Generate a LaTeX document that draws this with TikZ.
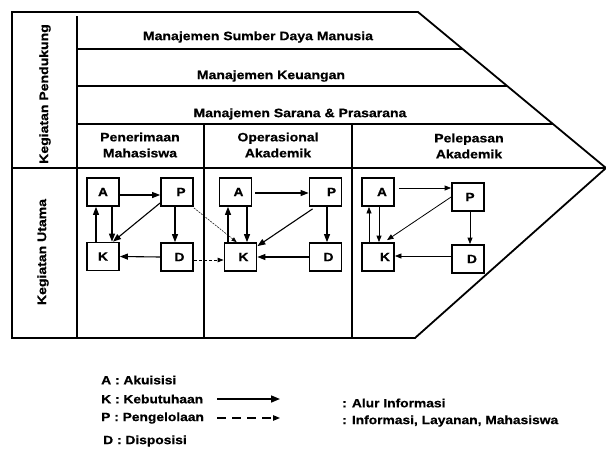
\documentclass[tikz,border=0pt]{standalone}
\usepackage{fontspec}
\setmainfont{Liberation Sans}[FakeStretch=1.15,BoldFont={Liberation Sans Bold},BoldFeatures={FakeStretch=1.15,FakeBold=0.6}]
\usetikzlibrary{arrows.meta,calc}
\begin{document}
\begin{tikzpicture}[x=1pt,y=-1pt,
  frame/.style={line width=1.8pt,line join=miter},
  box/.style={draw,line width=1.8pt,rectangle,minimum width=32pt,minimum height=28pt,inner sep=0pt,font=\fontsize{12}{13}\selectfont\bfseries},
  flow/.style={line width=1.1pt,-{Triangle[length=8pt,width=6pt]}},
  flowthin/.style={line width=0.8pt,-{Triangle[length=6.5pt,width=5pt]}},
  dotflow/.style={line width=0.5pt,dash pattern=on 2pt off 1pt,-{Triangle[length=5pt,width=4pt]}},
  dashflow/.style={line width=0.8pt,dash pattern=on 3pt off 2pt,-{Triangle[length=6pt,width=4.5pt]}},
  lbl/.style={font=\fontsize{12.2}{16}\selectfont\bfseries,align=center,inner sep=0pt},
  leg/.style={font=\fontsize{12}{14}\selectfont\bfseries,anchor=west,inner sep=0pt},
]
\useasboundingbox (0,0) rectangle (606,450);

% frame
\draw[frame] (12,12) -- (418,12) -- (606,168) -- (415,338) -- (12,338) -- cycle;
\draw[frame] (77,16) -- (77,338);
\draw[frame] (77,49) -- (462.6,49);
\draw[frame] (77,86) -- (507.2,86);
\draw[frame] (77,124) -- (553,124);
\draw[frame] (12,168) -- (606,168);
\draw[frame] (204,124) -- (204,338);
\draw[frame] (352,124) -- (352,338);

% labels
\node[lbl,rotate=90] (kp) at (45,94) {Kegiatan Pendukung};
\node[lbl,rotate=90] (ku) at (43,252) {Kegiatan Utama};
\node[lbl] (msdm) at (258,37) {Manajemen Sumber Daya Manusia};
\node[lbl] (mk) at (271,76) {Manajemen Keuangan};
\node[lbl] (msp) at (300,114) {Manajemen Sarana \& Prasarana};
\node[lbl] (c1) at (140,145) {Penerimaan\\Mahasiswa};
\node[lbl] (c2) at (278,145) {Operasional\\Akademik};
\node[lbl] (c3) at (469,146) {Pelepasan\\Akademik};

% column 1
\node[box] (A1) at (103,192) {A};
\node[box] (P1) at (177,192) {\kern8ptP};
\node[box] (K1) at (103,256.5) {K};
\node[box] (D1) at (177,257) {\kern5ptD};
\draw[flow] ([yshift=-3pt]A1.east) -- ([yshift=-3pt]P1.west);
\draw[flow] ([xshift=9pt]A1.south) -- ([xshift=9pt]K1.north);
\draw[flow] ([xshift=-7pt]K1.north) -- ([xshift=-7pt]A1.south);
\draw[flow] ([yshift=-11pt]P1.west) -- ([xshift=10pt]K1.north);
\draw[flow] ([xshift=-2pt]P1.south) -- ([xshift=-2pt]D1.north);
\draw[flow] (D1.west) -- (K1.east);

% column 2
\node[box] (A2) at (235.5,192) {\kern6ptA};
\node[box] (P2) at (325.5,192) {\kern12ptP};
\node[box] (K2) at (240.5,257) {\kern6ptK};
\node[box] (D2) at (325.5,257) {\kern6ptD};
\draw[flow] ([xshift=3pt,yshift=-1pt]A2.east) -- ([yshift=-1pt]P2.west);
\draw[flow] ([xshift=11.5pt]A2.south) -- ([xshift=11.5pt]A2.south |- K2.north);
\draw[flow] ([xshift=-12.5pt]K2.north) -- ([xshift=-12.5pt]K2.north |- A2.south);
\draw[flow] ([xshift=4pt,yshift=-2pt]P2.south west) -- ([yshift=-4pt]K2.north east);
\draw[flow] ([xshift=1.5pt]P2.south) -- ([xshift=1.5pt]D2.north);
\draw[flow] (D2.west) -- (K2.east);

% cross-column connectors
\draw[dotflow] ([yshift=-1pt]P1.south east) -- ([xshift=13pt]K2.north west);
\draw[dashflow] ([yshift=-3pt]D1.east) -- ([yshift=-3pt]D1.east -| K2.west);

% column 3
\node[box] (A3) at (378,192) {\kern8ptA};
\node[box] (P3) at (468,197) {\kern4ptP};
\node[box] (K3) at (378,257) {\kern14ptK};
\node[box] (D3) at (468,259) {\kern8ptD};
\draw[flowthin] ([xshift=4pt,yshift=4pt]A3.east) -- ([yshift=4pt]A3.east -| P3.west);
\draw[flowthin] ([xshift=-9pt]K3.north) -- ([xshift=-9pt]K3.north |- A3.south);
\draw[flowthin] ([xshift=1pt]A3.south) -- ([xshift=1pt]K3.north);
\draw[flowthin] (P3.west) -- ([xshift=9pt,yshift=2pt]K3.north);
\draw[flowthin] ([xshift=2pt]P3.south) -- ([xshift=2pt]D3.north);
\draw[flowthin] ([yshift=3pt]D3.west) -- ([yshift=3pt]D3.west -| K3.east);

% legend
\node[leg] (la) at (101,380) {A : Akuisisi};
\node[leg] (lk) at (101,399) {K : Kebutuhaan};
\node[leg] (lp) at (101,418) {P : Pengelolaan};
\node[leg] (ld) at (103,441) {D : Disposisi};
\coordinate (s1) at (217,399);
\coordinate (e1) at (280,399);
\coordinate (s2) at (217,418);
\coordinate (e2) at (280,418);
\draw[line width=1.6pt,-{Triangle[length=9pt,width=7pt]}] (s1) -- (e1);
\draw[line width=1.1pt,dash pattern=on 9pt off 6pt,-{Triangle[length=7pt,width=5.5pt]}] (s2) -- (e2);
\node[leg] (lai) at (342,403) {: Alur Informasi};
\node[leg] (lil) at (342,421) {: Informasi, Layanan, Mahasiswa};
\end{tikzpicture}
\end{document}
